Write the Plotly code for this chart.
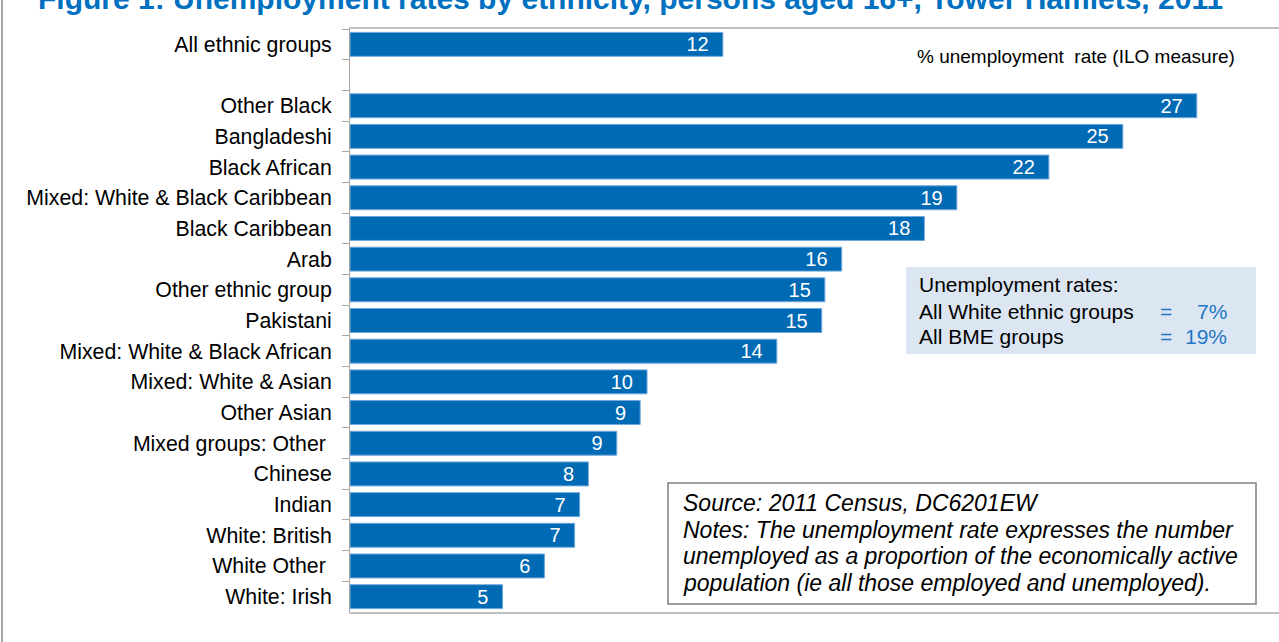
import plotly.graph_objects as go

categories = ["All ethnic groups", " ", "Other Black", "Bangladeshi", "Black African",
              "Mixed: White & Black Caribbean", "Black Caribbean", "Arab",
              "Other ethnic group", "Pakistani", "Mixed: White & Black African",
              "Mixed: White & Asian", "Other Asian", "Mixed groups: Other\u00a0",
              "Chinese", "Indian", "White: British", "White Other\u00a0", "White: Irish"]
rates = [11.95, None, 27.14, 24.77, 22.4, 19.45, 18.41, 15.76, 15.22, 15.12, 13.68,
         9.52, 9.3, 8.55, 7.64, 7.36, 7.2, 6.23, 4.89]
labels = ["12", "", "27", "25", "22", "19", "18", "16", "15", "15", "14",
          "10", "9", "9", "8", "7", "7", "6", "5"]

title_text = "Figure 1: Unemployment rates by ethnicity, persons aged 16+, Tower Hamlets, 2011"
axis_note = "% unemployment  rate (ILO measure)"
summary_lines = ["Unemployment rates:", "All White ethnic groups", "All BME groups"]
summary_values = ["7%", "19%"]
source_lines = ["Source: 2011 Census, DC6201EW",
                "Notes: The unemployment rate expresses the number",
                "unemployed as a proportion of the economically active",
                "population (ie all those employed and unemployed)."]

W, H = 1279, 642
L, T, B = 350, 29, 30
PW, PH = W - L, H - T - B
FONT = "Liberation Sans, Arial, sans-serif"


def px(x):
    return (x - L) / PW


def py(y):
    return 1 - (y - T) / PH


fig = go.Figure()
fig.add_trace(go.Bar(
    y=categories, x=rates, orientation="h",
    marker=dict(color="#006AB4", line=dict(color="#6FA8DC", width=1)),
    text=[t + "\u00a0\u00a0" if t else t for t in labels],
    textposition="inside", insidetextanchor="end", textangle=0,
    textfont=dict(color="white", size=20, family=FONT),
    cliponaxis=False, hoverinfo="skip",
))

fig.update_layout(
    width=W, height=H,
    margin=dict(l=L, r=0, t=T, b=B, pad=0),
    paper_bgcolor="white", plot_bgcolor="white",
    bargap=0.22, showlegend=False,
    font=dict(family=FONT, size=21, color="#000000"),
    xaxis=dict(range=[0, PW / 31.2], showticklabels=False, showgrid=False,
               zeroline=False, showline=True, linecolor="#BFBFBF", linewidth=2,
               mirror=True, ticks=""),
    yaxis=dict(type="category", autorange="reversed", showgrid=False,
               showline=True, linecolor="#A6A6A6", linewidth=1,
               ticks="outside", tickson="boundaries", ticklen=7,
               tickcolor="#A6A6A6", ticklabelstandoff=13,
               tickfont=dict(size=21.3, family=FONT, color="#000000")),
    uniformtext=dict(minsize=20, mode="show"),
)

shapes = []
shapes.append(dict(type="line", xref="paper", yref="paper",
                   x0=px(2), x1=px(2), y0=py(0), y1=py(H),
                   line=dict(color="#A6A6A6", width=2)))
shapes.append(dict(type="rect", xref="paper", yref="paper",
                   x0=px(906), x1=px(1256), y0=py(267), y1=py(354),
                   fillcolor="#DCE6F2", line=dict(width=0), layer="above"))
shapes.append(dict(type="rect", xref="paper", yref="paper",
                   x0=px(668), x1=px(1256), y0=py(483), y1=py(604),
                   fillcolor="white", line=dict(color="#7F7F7F", width=1.5),
                   layer="above"))
fig.update_layout(shapes=shapes)

ann = []
ann.append(dict(text="<b>" + title_text + "</b>", xref="paper", yref="paper",
                x=px(36), y=py(17), xanchor="left", yanchor="bottom",
                showarrow=False, font=dict(size=30, color="#0070C0", family=FONT)))
ann.append(dict(text=axis_note, xref="paper", yref="paper",
                x=px(915), y=py(57), xanchor="left", yanchor="middle",
                showarrow=False, font=dict(size=19, color="#000000", family=FONT)))
for txt, yy in zip(summary_lines, [284, 311, 336]):
    ann.append(dict(text=txt, xref="paper", yref="paper", x=px(917), y=py(yy),
                    xanchor="left", yanchor="middle", showarrow=False,
                    font=dict(size=21, color="#000000", family=FONT)))
for val, yy in zip(summary_values, [311, 336]):
    ann.append(dict(text="=", xref="paper", yref="paper", x=px(1158), y=py(yy),
                    xanchor="left", yanchor="middle", showarrow=False,
                    font=dict(size=21, color="#1F77C4", family=FONT)))
    ann.append(dict(text=val, xref="paper", yref="paper", x=px(1229), y=py(yy),
                    xanchor="right", yanchor="middle", showarrow=False,
                    font=dict(size=21, color="#1F77C4", family=FONT)))
for txt, yy in zip(source_lines, [503, 530, 556, 583]):
    ann.append(dict(text="<i>" + txt + "</i>", xref="paper", yref="paper",
                    x=px(681), y=py(yy), xanchor="left", yanchor="middle",
                    showarrow=False,
                    font=dict(size=23, color="#000000", family=FONT)))
fig.update_layout(annotations=ann)

fig.write_html("out.html")
